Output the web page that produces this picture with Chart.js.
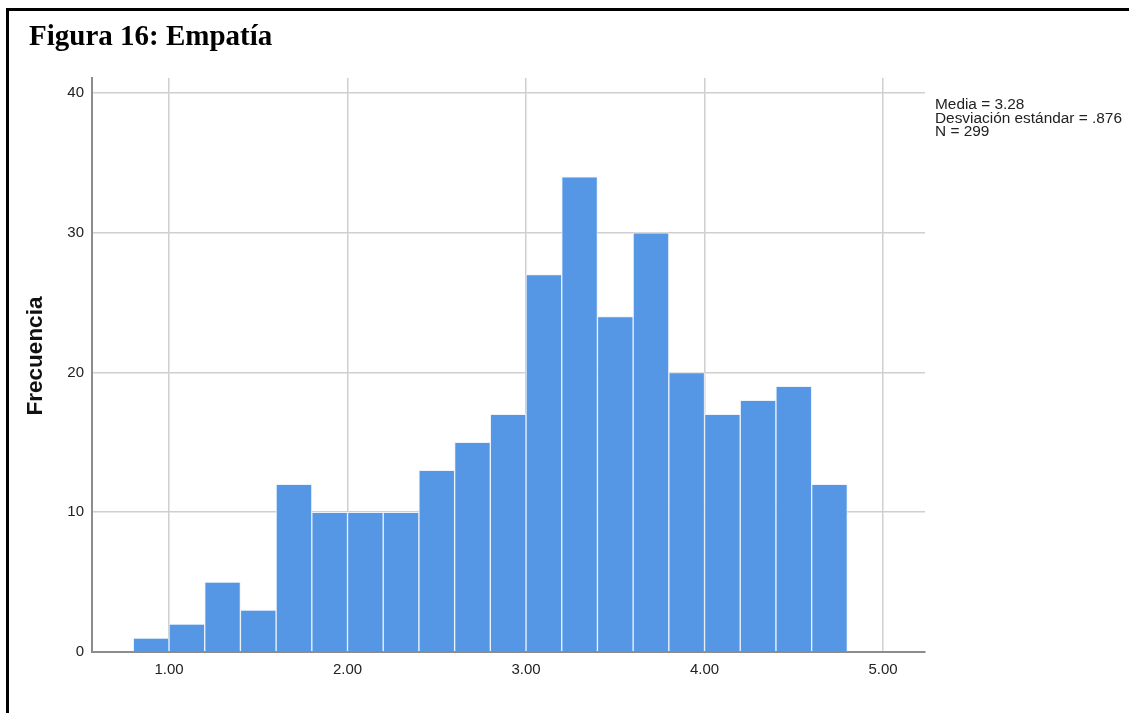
<!DOCTYPE html>
<html>
<head>
<meta charset="utf-8">
<script src="https://cdn.jsdelivr.net/npm/chart.js@4/dist/chart.umd.min.js"></script>
<style>
  html, body { margin: 0; padding: 0; background: #ffffff; }
  body { width: 1129px; height: 713px; position: relative; overflow: hidden; }
  #frame {
    position: absolute; left: 6px; top: 8px; right: -20px; bottom: -20px;
    border-left: 3px solid #000; border-top: 3px solid #000;
  }
  #c { position: absolute; left: 0; top: 0; }
</style>
</head>
<body>
<div id="frame"></div>
<canvas id="c" width="1129" height="713"></canvas>
<script>
// Histogram of the Empatía score (bin width 0.20)
const binCenters  = [0.9, 1.1, 1.3, 1.5, 1.7, 1.9, 2.1, 2.3, 2.5, 2.7,
                     2.9, 3.1, 3.3, 3.5, 3.7, 3.9, 4.1, 4.3, 4.5, 4.7];
const frequencies = [1, 2, 5, 3, 12, 10, 10, 10, 13, 15,
                     17, 27, 34, 24, 30, 20, 17, 18, 19, 12];
const xTickValues = [1, 2, 3, 4, 5];
const yTickValues = [0, 10, 20, 30, 40];
const figureTitle = 'Figura 16: Empatía';
const yAxisTitle  = 'Frecuencia';
const statLines   = ['Media = 3.28', 'Desviación estándar = .876', 'N = 299'];

const SANS = '"Liberation Sans", Arial, sans-serif';
const SERIF = '"Liberation Serif", "Times New Roman", serif';

// Titles and the summary box are drawn straight onto the canvas
const annotations = {
  id: 'annotations',
  afterDraw(chart) {
    const ctx = chart.ctx;
    ctx.save();
    ctx.fillStyle = '#000';
    ctx.font = 'bold 29px ' + SERIF;
    ctx.textAlign = 'left';
    ctx.textBaseline = 'alphabetic';
    ctx.fillText(figureTitle, 29, 45);

    ctx.save();
    ctx.translate(42, 356);
    ctx.rotate(-Math.PI / 2);
    ctx.font = 'bold 22.5px ' + SANS;
    ctx.textAlign = 'center';
    ctx.fillStyle = '#111';
    ctx.fillText(yAxisTitle, 0, 0);
    ctx.restore();

    ctx.font = '15.4px ' + SANS;
    ctx.fillStyle = '#222';
    ctx.textAlign = 'left';
    statLines.forEach((t, i) => ctx.fillText(t, 935, 109 + i * 13.5));
    ctx.restore();
  }
};

new Chart(document.getElementById('c'), {
  type: 'bar',
  data: {
    datasets: [{
      data: binCenters.map((x, i) => ({ x: x, y: frequencies[i] })),
      backgroundColor: '#5596e5',
      borderColor: 'rgba(235,242,252,0.95)',
      borderWidth: 1,
      borderSkipped: 'bottom',
      barPercentage: 1,
      categoryPercentage: 1
    }]
  },
  options: {
    responsive: false,
    animation: false,
    devicePixelRatio: 1,
    layout: { padding: { left: 0, top: 78, right: 204, bottom: 0 } },
    plugins: { legend: { display: false }, tooltip: { enabled: false } },
    scales: {
      x: {
        type: 'linear',
        offset: false,
        min: 0.5686,
        max: 5.235,
        afterBuildTicks: s => { s.ticks = xTickValues.map(v => ({ value: v })); },
        afterFit: s => { s.height = 61; },
        grid: { color: '#cfcfcf', lineWidth: 1.5, drawTicks: false, offset: false },
        border: { color: '#8c8c8c', width: 2 },
        ticks: {
          padding: 9,
          color: '#222',
          font: { family: SANS, size: 15 },
          callback: v => Number(v).toFixed(2)
        }
      },
      y: {
        min: 0,
        max: 41.07,
        afterBuildTicks: s => { s.ticks = yTickValues.map(v => ({ value: v })); },
        afterFit: s => { s.width = 92; },
        grid: { color: '#cfcfcf', lineWidth: 1.5, drawTicks: false },
        border: { color: '#8c8c8c', width: 2 },
        ticks: {
          padding: 8,
          color: '#222',
          font: { family: SANS, size: 15 }
        }
      }
    }
  },
  plugins: [annotations]
});
</script>
</body>
</html>
